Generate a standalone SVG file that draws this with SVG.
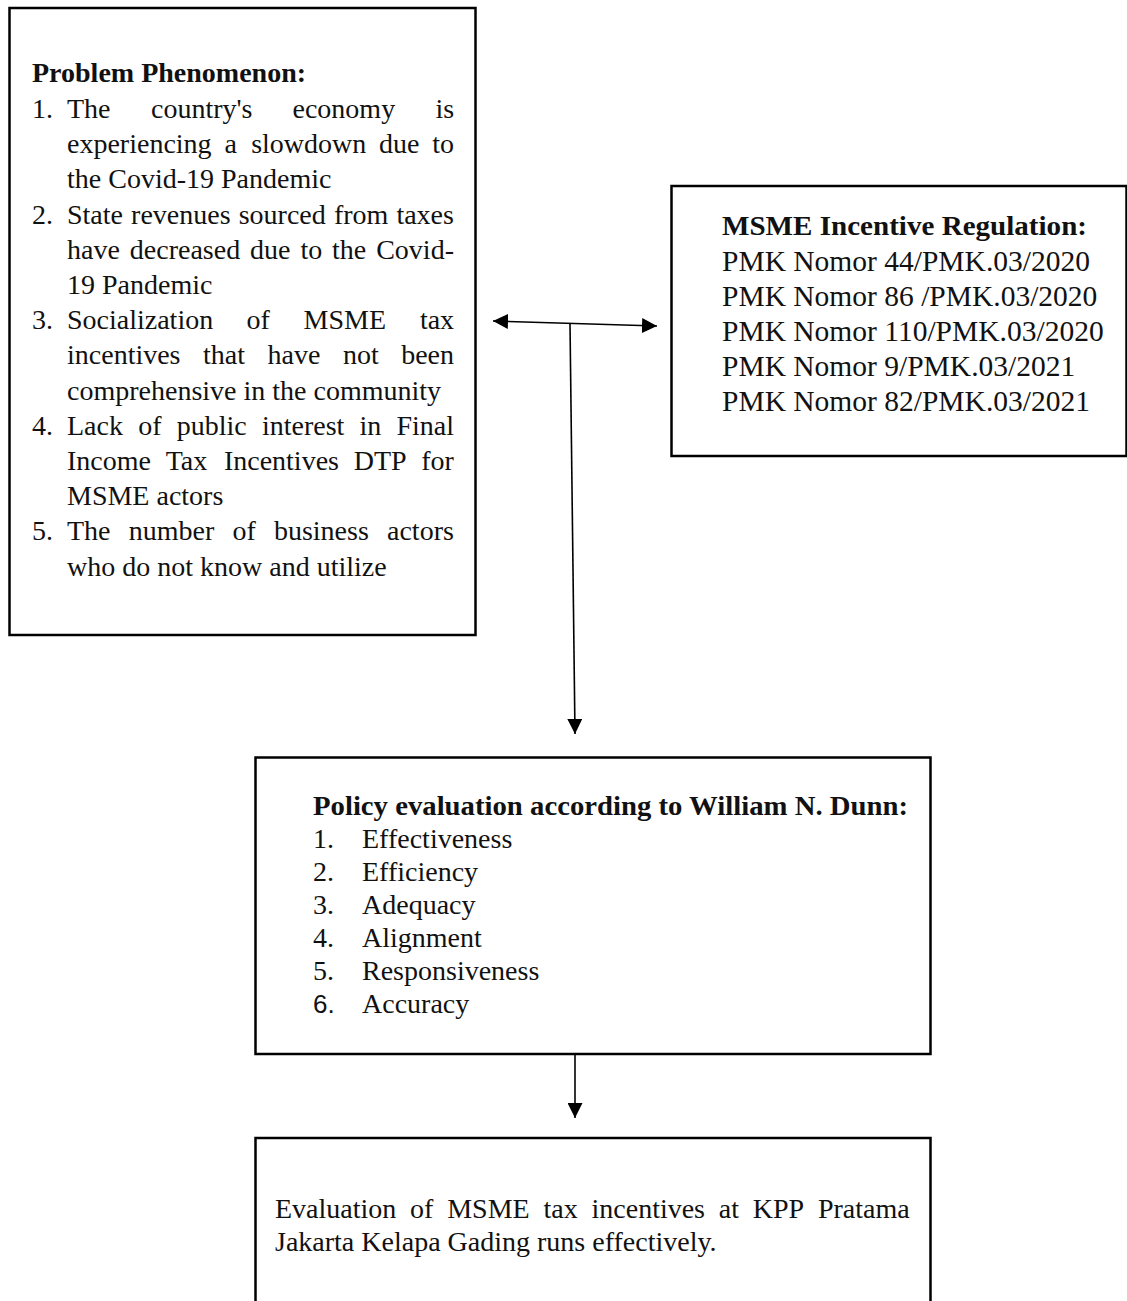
<svg xmlns="http://www.w3.org/2000/svg" width="1127" height="1301" viewBox="0 0 1127 1301">
<style>
.box{fill:#fff;stroke:#000;stroke-width:2.5}
.t{font-family:"Liberation Serif","Times New Roman",serif;font-size:28px;fill:#111}
.b{font-weight:bold}
.r{font-family:"Liberation Serif","Times New Roman",serif;font-size:29.5px;fill:#111}
.sans{font-family:"Liberation Sans",Arial,sans-serif;font-size:26px;fill:#111}
.conn{stroke:#000;stroke-width:1.6;fill:none}
</style>
<defs>
<marker id="ah" viewBox="0 0 15 15" markerUnits="userSpaceOnUse" markerWidth="15" markerHeight="15" refX="15" refY="7.5" orient="auto-start-reverse">
<path d="M0,0 L15,7.5 L0,15 z" fill="#000"/>
</marker>
</defs>
<rect width="1127" height="1301" fill="#fff"/>

<g id="problem">
<rect class="box" x="9.5" y="8" width="466" height="627"/>
<text class="t b" x="32" y="82">Problem Phenomenon:</text>
<text class="t" y="118"><tspan x="32">1.</tspan><tspan x="67">The</tspan><tspan x="151">country's</tspan><tspan x="292.5">economy</tspan><tspan x="435.5">is</tspan></text>
<text class="t" y="153.2"><tspan x="67">experiencing</tspan><tspan x="224.4">a</tspan><tspan x="251.2">slowdown</tspan><tspan x="379">due</tspan><tspan x="432.3">to</tspan></text>
<text class="t" x="67" y="188.4">the Covid-19 Pandemic</text>
<text class="t" y="223.6"><tspan x="32">2.</tspan><tspan x="67">State</tspan><tspan x="131.1">revenues</tspan><tspan x="238.7">sourced</tspan><tspan x="333.9">from</tspan><tspan x="396.4">taxes</tspan></text>
<text class="t" y="258.8"><tspan x="67">have</tspan><tspan x="129.8">decreased</tspan><tspan x="250.1">due</tspan><tspan x="300.4">to</tspan><tspan x="332.1">the</tspan><tspan x="376.2">Covid-</tspan></text>
<text class="t" x="67" y="294">19 Pandemic</text>
<text class="t" y="329.2"><tspan x="32">3.</tspan><tspan x="67">Socialization</tspan><tspan x="246.5">of</tspan><tspan x="303.6">MSME</tspan><tspan x="419.9">tax</tspan></text>
<text class="t" y="364.4"><tspan x="67">incentives</tspan><tspan x="203">that</tspan><tspan x="267.5">have</tspan><tspan x="342.9">not</tspan><tspan x="401.2">been</tspan></text>
<text class="t" x="67" y="399.6">comprehensive in the community</text>
<text class="t" y="434.8"><tspan x="32">4.</tspan><tspan x="67">Lack</tspan><tspan x="138.2">of</tspan><tspan x="176.7">public</tspan><tspan x="261.9">interest</tspan><tspan x="359.5">in</tspan><tspan x="396.5">Final</tspan></text>
<text class="t" y="470"><tspan x="67">Income</tspan><tspan x="165.7">Tax</tspan><tspan x="223.9">Incentives</tspan><tspan x="353.7">DTP</tspan><tspan x="421.3">for</tspan></text>
<text class="t" x="67" y="505.2">MSME actors</text>
<text class="t" y="540.4"><tspan x="32">5.</tspan><tspan x="67">The</tspan><tspan x="128.7">number</tspan><tspan x="232.4">of</tspan><tspan x="273.9">business</tspan><tspan x="387">actors</tspan></text>
<text class="t" x="67" y="575.6">who do not know and utilize</text>
</g>

<g id="regulation">
<rect class="box" x="671.5" y="186" width="455" height="270"/>
<text class="t b" x="722" y="235" textLength="365" lengthAdjust="spacingAndGlyphs">MSME Incentive Regulation:</text>
<text class="r" x="722" y="271">PMK Nomor 44/PMK.03/2020</text>
<text class="r" x="722" y="306">PMK Nomor 86 /PMK.03/2020</text>
<text class="r" x="722" y="341">PMK Nomor 110/PMK.03/2020</text>
<text class="r" x="722" y="376">PMK Nomor 9/PMK.03/2021</text>
<text class="r" x="722" y="411">PMK Nomor 82/PMK.03/2021</text>
</g>

<g id="evaluation">
<rect class="box" x="255.5" y="757.5" width="675" height="296.5"/>
<text class="t b" x="313" y="815" textLength="595" lengthAdjust="spacingAndGlyphs">Policy evaluation according to William N. Dunn:</text>
<text class="t" y="848"><tspan x="313">1.</tspan><tspan x="362">Effectiveness</tspan></text>
<text class="t" y="881"><tspan x="313">2.</tspan><tspan x="362">Efficiency</tspan></text>
<text class="t" y="914"><tspan x="313">3.</tspan><tspan x="362">Adequacy</tspan></text>
<text class="t" y="947"><tspan x="313">4.</tspan><tspan x="362">Alignment</tspan></text>
<text class="t" y="980"><tspan x="313">5.</tspan><tspan x="362">Responsiveness</tspan></text>
<text y="1013"><tspan class="sans" x="313">6.</tspan><tspan class="t" x="362">Accuracy</tspan></text>
</g>

<g id="result">
<path class="box" d="M255.5,1310 V1138 H930.5 V1310"/>
<text class="t" y="1218"><tspan x="275">Evaluation</tspan><tspan x="410.1">of</tspan><tspan x="447.2">MSME</tspan><tspan x="543.5">tax</tspan><tspan x="591.5">incentives</tspan><tspan x="718.8">at</tspan><tspan x="752.8">KPP</tspan><tspan x="817.9">Pratama</tspan></text>
<text class="t" x="275" y="1251">Jakarta Kelapa Gading runs effectively.</text>
</g>

<g id="connectors">
<line class="conn" x1="493" y1="321" x2="657" y2="326" marker-start="url(#ah)" marker-end="url(#ah)"/>
<line class="conn" x1="570" y1="323.5" x2="575" y2="734" marker-end="url(#ah)"/>
<line class="conn" x1="575" y1="1054" x2="575" y2="1118" marker-end="url(#ah)"/>
</g>
</svg>
